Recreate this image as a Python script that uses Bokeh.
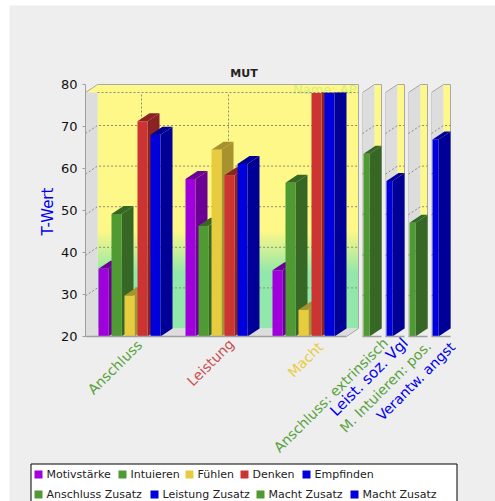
from bokeh.core.properties import value
from bokeh.embed import file_html
from bokeh.models import FixedTicker, LinearAxis, Range1d
from bokeh.plotting import figure
from bokeh.resources import INLINE
import numpy as np

# Chart values
title = "MUT"
y_title = "T-Wert"
y_ticks = [20, 30, 40, 50, 60, 70, 80]
categories = ["Anschluss", "Leistung", "Macht"]
category_colors = ["#5aa23f", "#cc4f4f", "#e8cc40"]
series_names = ["Motivstärke", "Intuieren", "Fühlen", "Denken", "Empfinden"]
motivstaerke = [36.7, 58.8, 36.3]
intuieren = [50.2, 47.3, 57.9]
fuehlen = [30.1, 66.0, 26.6]
denken = [73.0, 59.7, 80.0]
empfinden = [69.7, 62.5, 80.0]
extra_labels = ["Anschluss: extrinsisch", "Leist. soz. Vgl", "M. Intuieren: pos.", "Verantw. angst"]
extra_values = [65.0, 58.3, 48.0, 68.5]
extra_legend = ["Anschluss Zusatz", "Leistung Zusatz", "Macht Zusatz", "Macht Zusatz"]

# Colours: front face, darker side
PURPLE = ("#a000dc", "#6c0094")
GREEN = ("#4f9a33", "#376724")
YELLOW = ("#e8cc40", "#a8922f")
RED = ("#cc3333", "#8a2323")
BLUE = ("#0000dc", "#000096")
series_styles = [PURPLE, GREEN, YELLOW, RED, BLUE]
extra_styles = [GREEN, BLUE, GREEN, BLUE]

# Page geometry (the x range runs in page pixels, y in front-plane units)
W, H = 495, 501
BASE_PX = 336
PX_PER_UNIT = 4.06
DX, DY_PX = 12, 8
DY = DY_PX / PX_PER_UNIT
MAIN_L, MAIN_R = 85, 358
PANEL_LEFTS = [362, 385, 408, 431]
PANEL_W = 19
GROUP_STARTS = [98, 185, 272]
BAR_STEP, BAR_W = 13, 10


def py(pixel_row):
    """Value on the front plane that lands on a given page row."""
    return 20 + (BASE_PX - pixel_row) / PX_PER_UNIT


p = figure(width=W, height=H, output_backend="svg", toolbar_location=None,
           x_range=Range1d(0, W), y_range=Range1d(py(H), py(0)),
           x_axis_type=None, y_axis_type=None, min_border=0,
           outline_line_color=None, background_fill_color="white",
           border_fill_color="white")
p.xgrid.visible = False
p.ygrid.visible = False

# Panel background
p.quad(left=[9], right=[W], bottom=[py(H)], top=[py(5)], fill_color="#eeeeee", line_color=None)

WALL = "#dddddd"
EDGE = "#a8a8a8"
GRID = "#8c8c78"
top_y = py(92)
back_base = 20 + DY

# Back wall with its yellow-to-green fade
rows = np.arange(92, 328)
mix = np.clip((rows - 230) / 42.0, 0, 1)
yellow_c, green_c = np.array([253, 248, 136]), np.array([146, 232, 170])
fade = np.zeros((len(rows), 1), dtype=np.uint32)
view = fade.view(np.uint8).reshape((len(rows), 1, 4))
for k, m in enumerate(mix[::-1]):
    view[k, 0, :3] = (yellow_c * (1 - m) + green_c * m).astype(np.uint8)
    view[k, 0, 3] = 255
p.image_rgba(image=[fade], x=[MAIN_L + DX], y=[py(328)], dw=[MAIN_R - MAIN_L - DX], dh=[py(92) - py(328)])

# Top strip, left wall and floor of the main plot
p.patch([MAIN_L, MAIN_L + DX, MAIN_R, MAIN_R], [top_y, top_y + DY, top_y + DY, top_y], fill_color="#fdf888", line_color=None)
p.patch([MAIN_L, MAIN_L + DX, MAIN_L + DX, MAIN_L], [top_y, top_y, back_base, 20], fill_color=WALL, line_color=None)
p.patch([MAIN_L, MAIN_L + DX, MAIN_R, MAIN_R - DX], [20, back_base, back_base, 20], fill_color=WALL, line_color=None)
p.line([MAIN_L, MAIN_L + DX, MAIN_R, MAIN_R, MAIN_R - DX], [top_y, top_y + DY, top_y + DY, back_base, 20], line_color=EDGE, line_width=1)

# Watermark on the back wall
p.text(x=[356], y=[py(88.5)], text=["Name: AP"], text_color="#d6ee7c", text_font=value("DejaVu Sans"),
       text_font_size="13px", text_align="right", text_baseline="middle")

# Grid of the main plot
for tick in y_ticks[1:-1]:
    p.line([MAIN_L, MAIN_L + DX, MAIN_R], [tick, tick + DY, tick + DY], line_color=GRID, line_dash="2 2", line_width=1)
p.line([MAIN_L + DX, MAIN_R], [top_y, top_y], line_color=GRID, line_dash="2 2", line_width=1)
for i in range(len(categories)):
    cx = GROUP_STARTS[i] + (2 * BAR_STEP + BAR_W / 2) + DX
    p.line([cx, cx], [back_base, top_y], line_color=GRID, line_dash="2 2", line_width=1)

# Narrow side panels
for left in PANEL_LEFTS:
    right = left + PANEL_W
    p.patch([left, left + DX, left + DX, left], [top_y, top_y + DY, back_base, 20], fill_color=WALL, line_color=None)
    p.patch([left + DX, right, right, left + DX], [top_y + DY, top_y + DY, back_base, back_base], fill_color="#fdf888", line_color=None)
    p.line([left, left + DX, right, right], [top_y, top_y + DY, top_y + DY, back_base], line_color=EDGE, line_width=1)
    p.line([left, left], [top_y, 20], line_color="#cccccc", line_width=1)
    for tick in y_ticks[1:-1]:
        p.line([left, left + DX, right], [tick, tick + DY, tick + DY], line_color=GRID, line_dash="2 2", line_width=1)


def bar(x0, width, val, style):
    """One box: side, top (unless cut off at the axis maximum), then front."""
    front, shade = style
    shown = min(val, 80)
    cut = val >= 80
    side_top = top_y if cut else shown + DY
    p.patch([x0 + width, x0 + width + DX, x0 + width + DX, x0 + width], [20, back_base, side_top, top_y if cut else shown],
            fill_color=shade, line_color=None)
    if not cut:
        p.patch([x0, x0 + DX, x0 + width + DX, x0 + width], [shown, shown + DY, shown + DY, shown],
                fill_color=shade, line_color=None)
    p.quad(left=[x0], right=[x0 + width], bottom=[20], top=[shown], fill_color=front, line_color=None)


series_values = [motivstaerke, intuieren, fuehlen, denken, empfinden]
for g in range(len(categories)):
    for s, vals in enumerate(series_values):
        bar(GROUP_STARTS[g] + s * BAR_STEP, BAR_W, vals[g], series_styles[s])
for k, val in enumerate(extra_values):
    bar(PANEL_LEFTS[k] + 1, 6, val, extra_styles[k])

# Base lines
p.line([MAIN_L, MAIN_R - DX], [20, 20], line_color="#a0a0a0", line_width=1.5)
for left in PANEL_LEFTS:
    p.line([left, left + PANEL_W], [20, 20], line_color="#a0a0a0", line_width=1.5)

# Value axis, evenly spread over the full plot height
p.extra_y_ranges["ticks"] = Range1d(20 - (H - BASE_PX) / 4.2, 20 + BASE_PX / 4.2)
axis = LinearAxis(y_range_name="ticks", fixed_location=MAIN_L, ticker=FixedTicker(ticks=y_ticks),
                  bounds=(20, 80),
                  axis_line_color="#a0a0a0", major_tick_line_color="#a0a0a0", minor_tick_line_color=None,
                  major_tick_in=0, major_tick_out=3, major_label_standoff=5,
                  major_label_text_font="DejaVu Sans", major_label_text_font_size="13px",
                  major_label_text_color="#111111")
p.add_layout(axis, "left")

# Titles
p.text(x=[243.5], y=[py(73)], text=[title], text_font=value("DejaVu Sans"), text_font_size="11px",
       text_font_style="bold", text_color="#222222", text_align="center", text_baseline="middle")
p.text(x=[47], y=[py(211)], text=[y_title], text_font=value("DejaVu Sans"), text_font_size="15px",
       text_color="#0000ee", angle=90, angle_units="deg", text_align="center", text_baseline="middle")

# Slanted category labels
label_ends = [(139, 342), (231, 341), (320, 344)]
for name, colour, (ex, ey) in zip(categories, category_colors, label_ends):
    p.text(x=[ex], y=[py(ey)], text=[name], text_color=colour, text_font=value("DejaVu Sans"),
           text_font_size="14px", angle=45, angle_units="deg", text_align="right", text_baseline="middle")
extra_colors = ["#5aa23f", "#0000ee", "#5aa23f", "#0000ee"]
extra_ends = [(385, 340), (405, 340), (428, 343), (452, 344)]
extra_sizes = ["14px", "15px", "14px", "14px"]
for name, colour, (ex, ey), size in zip(extra_labels, extra_colors, extra_ends, extra_sizes):
    p.text(x=[ex], y=[py(ey)], text=[name], text_color=colour, text_font=value("DejaVu Sans"),
           text_font_size=size, angle=45, angle_units="deg", text_align="right", text_baseline="middle")

# Legend box running off the bottom of the page
p.quad(left=[30.5], right=[456.5], top=[py(463.5)], bottom=[py(H + 5)], fill_color="white", line_color="black", line_width=1)
row_1 = [34, 118, 185, 240, 302]
row_2 = [34, 150, 256, 350]
for x0, name, style in zip(row_1, series_names, series_styles):
    p.quad(left=[x0], right=[x0 + 8], top=[py(470)], bottom=[py(478)], fill_color=style[0], line_color=None)
    p.text(x=[x0 + 12], y=[py(474)], text=[name], text_font=value("DejaVu Sans"), text_font_size="11px",
           text_color="#222222", text_baseline="middle")
for x0, name, style in zip(row_2, extra_legend, extra_styles):
    p.quad(left=[x0], right=[x0 + 8], top=[py(490)], bottom=[py(498)], fill_color=style[0], line_color=None)
    p.text(x=[x0 + 12], y=[py(494)], text=[name], text_font=value("DejaVu Sans"), text_font_size="11px",
           text_color="#222222", text_baseline="middle")

open("out.html", "w").write(file_html(p, INLINE))
